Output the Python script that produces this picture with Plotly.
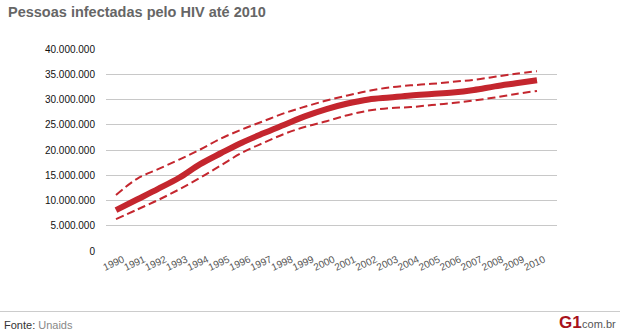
import plotly.graph_objects as go

years = list(range(1990, 2011))
central = [8.1, 10.2, 12.3, 14.5, 17.2, 19.4, 21.5, 23.3, 25.0, 26.7, 28.1, 29.2, 30.0, 30.4, 30.8, 31.1, 31.4, 31.9, 32.6, 33.2, 33.8]
upper = [11.1, 14.3, 16.2, 18.1, 20.1, 22.3, 24.1, 25.7, 27.3, 28.6, 29.8, 30.8, 31.7, 32.4, 32.8, 33.1, 33.5, 33.9, 34.5, 35.1, 35.6]
lower = [6.3, 8.2, 10.1, 12.2, 14.5, 17.0, 19.5, 21.4, 23.2, 24.6, 25.7, 26.9, 27.8, 28.3, 28.5, 28.9, 29.3, 29.8, 30.4, 31.1, 31.7]
central = [v * 1e6 for v in central]
upper = [v * 1e6 for v in upper]
lower = [v * 1e6 for v in lower]

ytick_vals = [0, 5e6, 10e6, 15e6, 20e6, 25e6, 30e6, 35e6, 40e6]
ytick_text = ["0", "5.000.000", "10.000.000", "15.000.000", "20.000.000",
              "25.000.000", "30.000.000", "35.000.000", "40.000.000"]
xtick_text = [str(y) for y in years]

title = "Pessoas infectadas pelo HIV até 2010"
source = "<span style='color:#333'>Fonte:</span> Unaids"

RED = "#c4262e"
FONT = "Liberation Sans, Arial, sans-serif"

W, H = 620, 334
ML, MR, MT, MB = 106, 63, 49, 83
PW, PH = W - ML - MR, H - MT - MB

def px_x(x):
    return (x - ML) / PW

def px_y(y):
    return (H - MB - y) / PH

fig = go.Figure()
fig.add_trace(go.Scatter(x=years, y=upper, mode="lines", line=dict(color=RED, width=2, dash="8px,4px", shape="spline"), hoverinfo="skip"))
fig.add_trace(go.Scatter(x=years, y=lower, mode="lines", line=dict(color=RED, width=2, dash="8px,4px", shape="spline"), hoverinfo="skip"))
fig.add_trace(go.Scatter(x=years, y=central, mode="lines", line=dict(color=RED, width=6, shape="spline"), hoverinfo="skip"))

fig.update_layout(
    width=W, height=H,
    margin=dict(l=ML, r=MR, t=MT, b=MB),
    paper_bgcolor="white", plot_bgcolor="white",
    showlegend=False,
    font=dict(family=FONT, size=10, color="#222"),
    xaxis=dict(
        range=[1990 - 10 / 21.05, 2010 + 20 / 21.05],
        tickvals=years, ticktext=xtick_text,
        tickangle=-25, ticklabelshift=7,
        showgrid=False, zeroline=False, showline=False, ticks="",
        tickfont=dict(family=FONT, size=10, color="#555"),
    ),
    yaxis=dict(
        range=[0, 40e6],
        tickvals=ytick_vals, ticktext=ytick_text,
        showgrid=True, gridcolor="#c8c8c8", gridwidth=1,
        zeroline=False, showline=False, ticks="",
        ticklabelstandoff=10,
        tickfont=dict(family=FONT, size=10, color="#111"),
    ),
    shapes=[
        dict(type="line", xref="paper", yref="paper",
             x0=px_x(0), x1=px_x(W), y0=px_y(311.5), y1=px_y(311.5),
             line=dict(color="#cccccc", width=1)),
    ],
    annotations=[
        dict(text=title, xref="paper", yref="paper", x=px_x(6), y=px_y(2),
             xanchor="left", yanchor="top", showarrow=False,
             font=dict(family=FONT, size=14.5, color="#666", weight="bold")),
        dict(text=source, xref="paper", yref="paper", x=px_x(2), y=px_y(317),
             xanchor="left", yanchor="top", showarrow=False,
             font=dict(family=FONT, size=11, color="#888")),
        dict(text="<b>G1</b>", xref="paper", yref="paper", x=px_x(584), y=px_y(311),
             xanchor="right", yanchor="top", showarrow=False,
             font=dict(family=FONT, size=17, color="#a8121b")),
        dict(text=".com.br", xref="paper", yref="paper", x=px_x(618), y=px_y(316),
             xanchor="right", yanchor="top", showarrow=False,
             font=dict(family=FONT, size=11, color="#555")),
    ],
)

fig.write_html("out.html")
